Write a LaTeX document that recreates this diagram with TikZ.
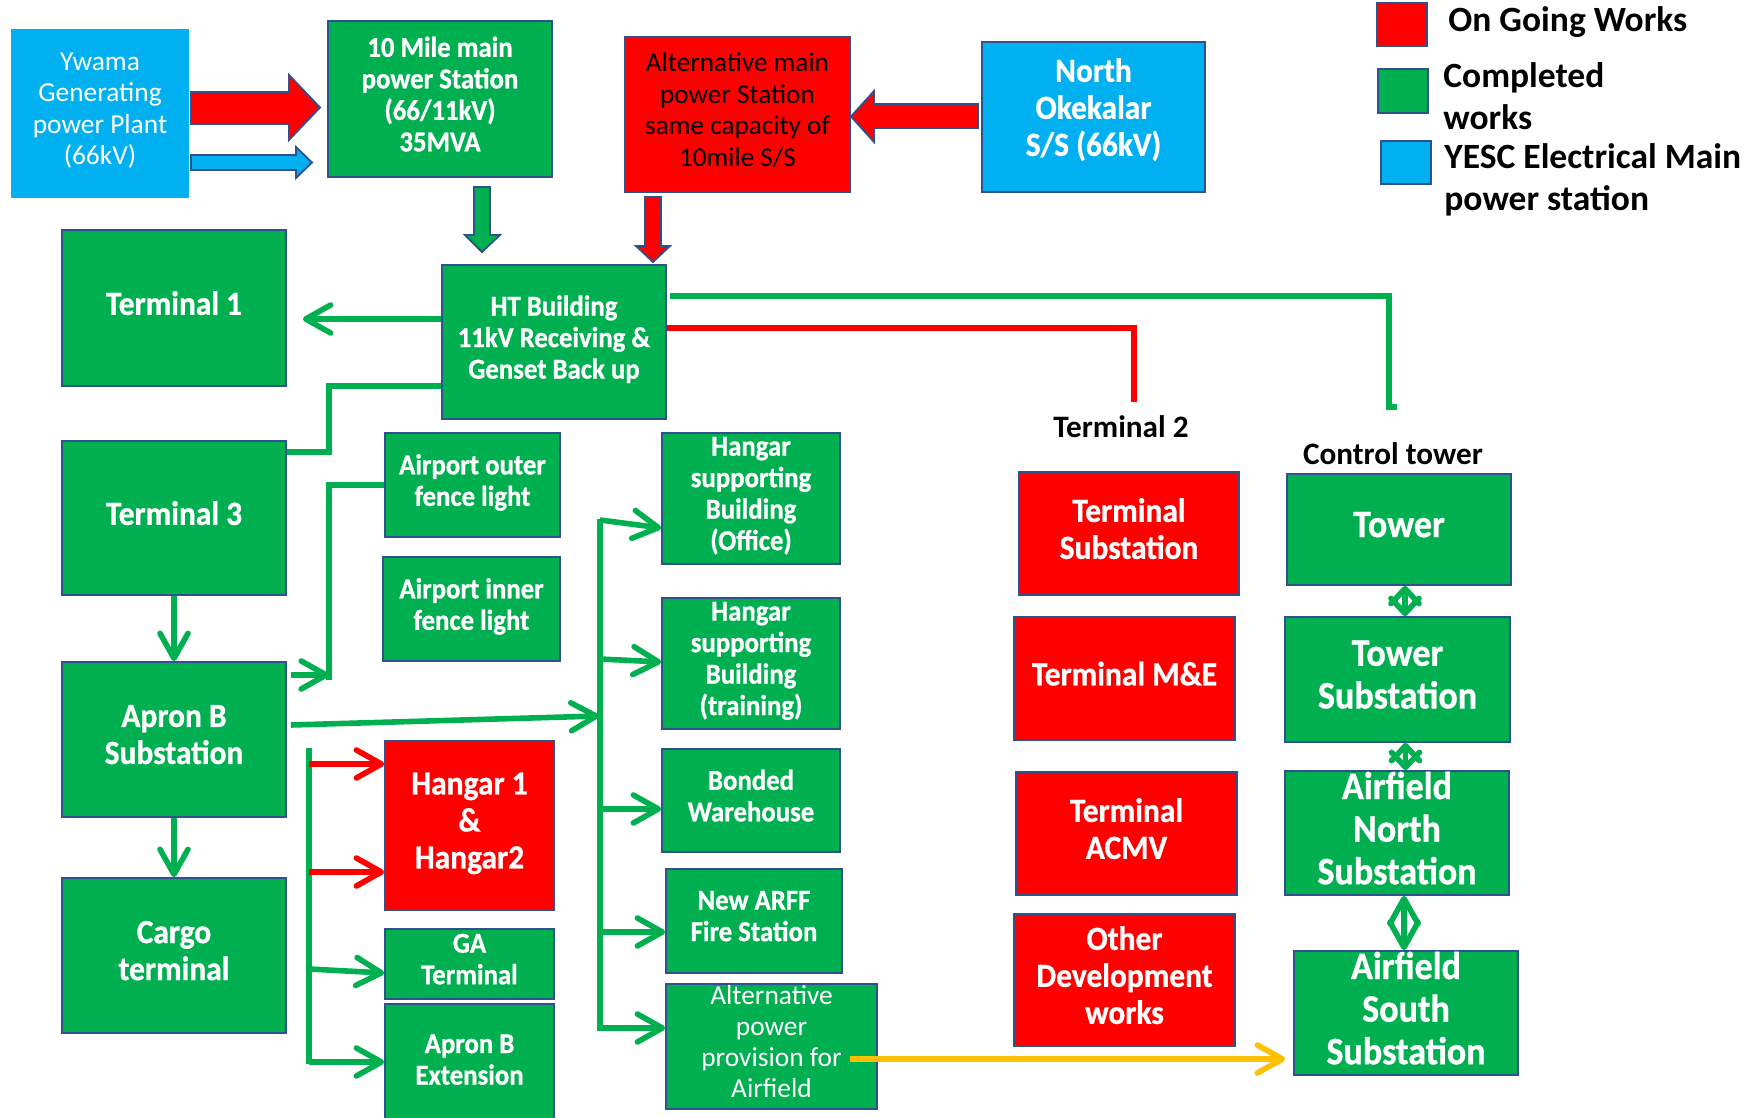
\documentclass[tikz,border=0pt]{standalone}
\usepackage{fontspec}
\setmainfont{Carlito}
\newfontfamily\boxfont[FakeStretch=0.93, FakeBold=0.8]{Carlito}
\usetikzlibrary{arrows.meta}

\definecolor{okgreen}{HTML}{00B050}
\definecolor{ongoing}{HTML}{FF0000}
\definecolor{yesc}{HTML}{00B0F0}
\definecolor{edge}{HTML}{2F528F}
\definecolor{feed}{HTML}{FFC000}

\tikzset{
  box/.style={draw=edge, line width=0.85pt, inner sep=0pt, align=center, text=white,
    execute at end node={\rule[-5pt]{0pt}{5pt}}},
  done/.style={box, fill=okgreen},
  work/.style={box, fill=ongoing},
  mainss/.style={box, fill=yesc},
  sz/.style 2 args={minimum width=#1, minimum height=#2},
  fs/.style={font=\boxfont\bfseries\fontsize{14.4}{15.75}\selectfont},
  fm/.style={font=\boxfont\bfseries\fontsize{16.9}{18.5}\selectfont},
  fl/.style={font=\boxfont\bfseries\fontsize{19.4}{21.3}\selectfont},
  fr/.style={font=\fontsize{13.6}{15.75}\selectfont},
  lab/.style={font=\bfseries\fontsize{15.6}{18}\selectfont, inner sep=0pt},
  key/.style={font=\bfseries\fontsize{17.75}{21}\selectfont, inner sep=0pt, align=left},
  gl/.style={draw=okgreen, line width=2.8pt},
  rl/.style={draw=ongoing, line width=2.8pt},
  yl/.style={draw=feed, line width=2.8pt},
  arr/.style={-{Straight Barb[length=12.5pt, width=14pt, round]}},
  darr/.style={{Straight Barb[length=#1, width=14pt, round]}-{Straight Barb[length=#1, width=14pt, round]}},
  blk/.style={draw=edge, line width=0.9pt, line join=miter},
}

\begin{document}
\begin{tikzpicture}[x=0.5pt, y=-0.5pt]
\useasboundingbox (0,0) rectangle (1763,1118);
\fill[white] (0,0) rectangle (1763,1118);

% supply stations
\node[mainss, draw=none, sz={89pt}{84.5pt}, font=\fontsize{13.7}{15.75}\selectfont] (ywama) at (100,113.5) {Ywama\\Generating\\power Plant\\(66kV)};
\node[done, sz={112pt}{78pt}, fs] (ten) at (440,99) {10 Mile main\\power Station\\(66/11kV)\\35MVA};
\node[work, sz={112.5pt}{77.5pt}, text=black, fr] (alt) at (737.5,114.5) {Alternative main\\power Station\\same capacity of\\10mile S/S};
\node[mainss, sz={111.5pt}{75pt}, fm, execute at end node={\rule[-10pt]{0pt}{10pt}}] (north) at (1093.5,117) {North\\Okekalar\\S/S (66kV)};
\node[done, sz={112pt}{77pt}, fs] (ht) at (554,342) {HT Building\\11kV Receiving \&\\Genset Back up};

% left column
\node[done, sz={112pt}{78pt}, fm] (term1) at (174,308) {Terminal 1};
\node[done, sz={112pt}{77pt}, fm] (term3) at (174,518) {Terminal 3};
\node[done, sz={112pt}{77.5pt}, fm] (apronb) at (174,739.5) {Apron B\\Substation};
\node[done, sz={112pt}{77.5pt}, fm] (cargo) at (174,955.5) {Cargo\\terminal};

% second column
\node[done, sz={87.5pt}{52pt}, fs] (outer) at (472.5,485) {Airport outer\\fence light};
\node[done, sz={88.5pt}{52pt}, fs] (inner) at (471.5,609) {Airport inner\\fence light};
\node[work, sz={84.5pt}{84.5pt}, fm] (hangars) at (469.5,825.5) {Hangar 1\\\&\\Hangar2};
\node[done, sz={84.5pt}{35pt}, fs] (ga) at (469.5,964) {GA\\Terminal};
\node[done, sz={84.5pt}{60.5pt}, fs] (apronext) at (469.5,1064.5) {Apron B\\Extension};

% third column
\node[done, sz={89pt}{65.5pt}, fs] (office) at (751,498.5) {Hangar\\supporting\\Building\\(Office)};
\node[done, sz={89pt}{65.5pt}, fs] (training) at (751,663.5) {Hangar\\supporting\\Building\\(training)};
\node[done, sz={89pt}{51.5pt}, fs] (bonded) at (751,800.5) {Bonded\\Warehouse};
\node[done, sz={88pt}{52pt}, fs] (arff) at (754,921) {New ARFF\\Fire Station};
\node[done, sz={105.5pt}{62.5pt}, font=\fontsize{13.7}{15.5}\selectfont] (altpower) at (771.5,1046.5) {Alternative\\power\\provision for\\Airfield};

% Terminal 2
\node[lab] (t2label) at (1121,427) {Terminal 2};
\node[work, sz={110pt}{61.5pt}, fm] (tsub) at (1129,533.5) {Terminal\\Substation};
\node[work, sz={110.5pt}{61.5pt}, fm] (tme) at (1124.5,678.5) {Terminal M\&E};
\node[work, sz={110.5pt}{61.5pt}, fm] (tacmv) at (1126.5,833.5) {Terminal\\ACMV};
\node[work, sz={110.5pt}{66pt}, fm] (other) at (1124.5,980) {Other\\Development\\works};

% Control tower
\node[lab] (ctlabel) at (1393,454) {Control tower};
\node[done, sz={112pt}{55.5pt}, fl] (tower) at (1399,529.5) {Tower};
\node[done, sz={112.5pt}{62.5pt}, fl] (towersub) at (1397.5,679.5) {Tower\\Substation};
\node[done, sz={112pt}{62pt}, fl] (afn) at (1397,833) {Airfield\\North\\Substation};
\node[done, sz={112pt}{62pt}, fl] (afs) at (1406,1013) {Airfield\\South\\Substation};

% legend
\node[work, sz={25pt}{21.5pt}] (keyred) at (1402,24.5) {};
\node[done, sz={25pt}{22pt}] (keygreen) at (1403,91) {};
\node[mainss, sz={25pt}{21.5pt}] (keyblue) at (1406,162.5) {};
\node[key, anchor=base west] (keyredtext) at (1448,32) {On Going Works};
\node[key, anchor=base west] (keygreentext) at (1443,130) {Completed\\works};
\node[key, anchor=base west] (keybluetext) at (1444,211) {YESC Electrical Main\\power station};

% block arrows between the stations
\filldraw[blk, fill=ongoing] (191,92) -- (289,92) -- (289,75) -- (320,107.5) -- (289,140) -- (289,124) -- (191,124) -- cycle;
\filldraw[blk, fill=yesc] (191,155) -- (296,155) -- (296,147) -- (312,162.5) -- (296,178) -- (296,170) -- (191,170) -- cycle;
\filldraw[blk, fill=ongoing] (978,104) -- (874,104) -- (874,91) -- (851,116.5) -- (874,142) -- (874,128) -- (978,128) -- cycle;
\filldraw[blk, fill=okgreen] (474,187) -- (490,187) -- (490,235) -- (500,235) -- (482,252) -- (465,235) -- (474,235) -- cycle;
\filldraw[blk, fill=ongoing] (645,197) -- (661,197) -- (661,246) -- (670,246) -- (653,262) -- (636,246) -- (645,246) -- cycle;

% feeders from the HT building
\draw[gl, arr] (ht.west |- 0,319) -- ([xshift=8pt]term1.east |- 0,319);
\coordinate (ctfoot) at (1389,407);
\draw[gl] ([xshift=1.5pt]ht.east |- 0,296) -| (ctfoot) -- ++(8,0);
\coordinate (t2foot) at (1134,402);
\draw[rl] (ht.east |- 0,328) -| (t2foot);
\draw[gl] (ht.west |- 0,386) -- (329,386) |- (term3.east |- 0,452);

% left column feeds
\draw[gl, arr] (term3.south) -- (apronb.north);
\draw[gl, arr] (apronb.south) -- (cargo.north);
\coordinate (fencebus) at (329,680);
\draw[gl] (outer.west) -| (fencebus);
\draw[gl, arr] ([xshift=2pt]apronb.east |- 0,675) -- (fencebus |- 0,675);

% bus to the hangar area
\coordinate (busA) at (600,519);
\coordinate (busB) at (600,1031);
\draw[gl, arr] ([xshift=2pt]apronb.east |- 0,725) -- (599,716);
\draw[gl] (busA) -- (busB);
\draw[gl, arr] (busA |- 0,520) -- (office.west |- 0,528);
\draw[gl, arr] (busA |- 0,659) -- (training.west |- 0,662);
\draw[gl, arr] (busA |- 0,809) -- (bonded.west |- 0,809);
\draw[gl, arr] (busA |- 0,932) -- (arff.west |- 0,932);
\draw[gl, arr] (busA |- 0,1028) -- (altpower.west |- 0,1028);

% bus to the hangars and apron extension
\coordinate (busC) at (309,748);
\coordinate (busD) at (309,1064);
\draw[gl] (busC) -- (busD);
\draw[rl, arr] (busC |- 0,764) -- (hangars.west |- 0,764);
\draw[rl, arr] (busC |- 0,872) -- (hangars.west |- 0,872);
\draw[gl, arr] (busC |- 0,969) -- (ga.west |- 0,973);
\draw[gl, arr] (busC |- 0,1062) -- (apronext.west |- 0,1062);

% alternative airfield supply
\draw[yl, arr] ([xshift=-14pt]altpower.east |- 0,1059) -- ([xshift=-4pt]afs.west |- 0,1059);

% control tower chain
\draw[gl, darr=7.5pt] ([xshift=3pt]tower.south) -- ([xshift=3pt]tower.south |- towersub.north);
\draw[gl, darr=7.5pt] ([xshift=4pt]towersub.south) -- ([xshift=4pt]towersub.south |- afn.north);
\draw[gl, darr=12.5pt] ([xshift=3.5pt]afn.south) -- ([xshift=3.5pt]afn.south |- afs.north);
\end{tikzpicture}
\end{document}
